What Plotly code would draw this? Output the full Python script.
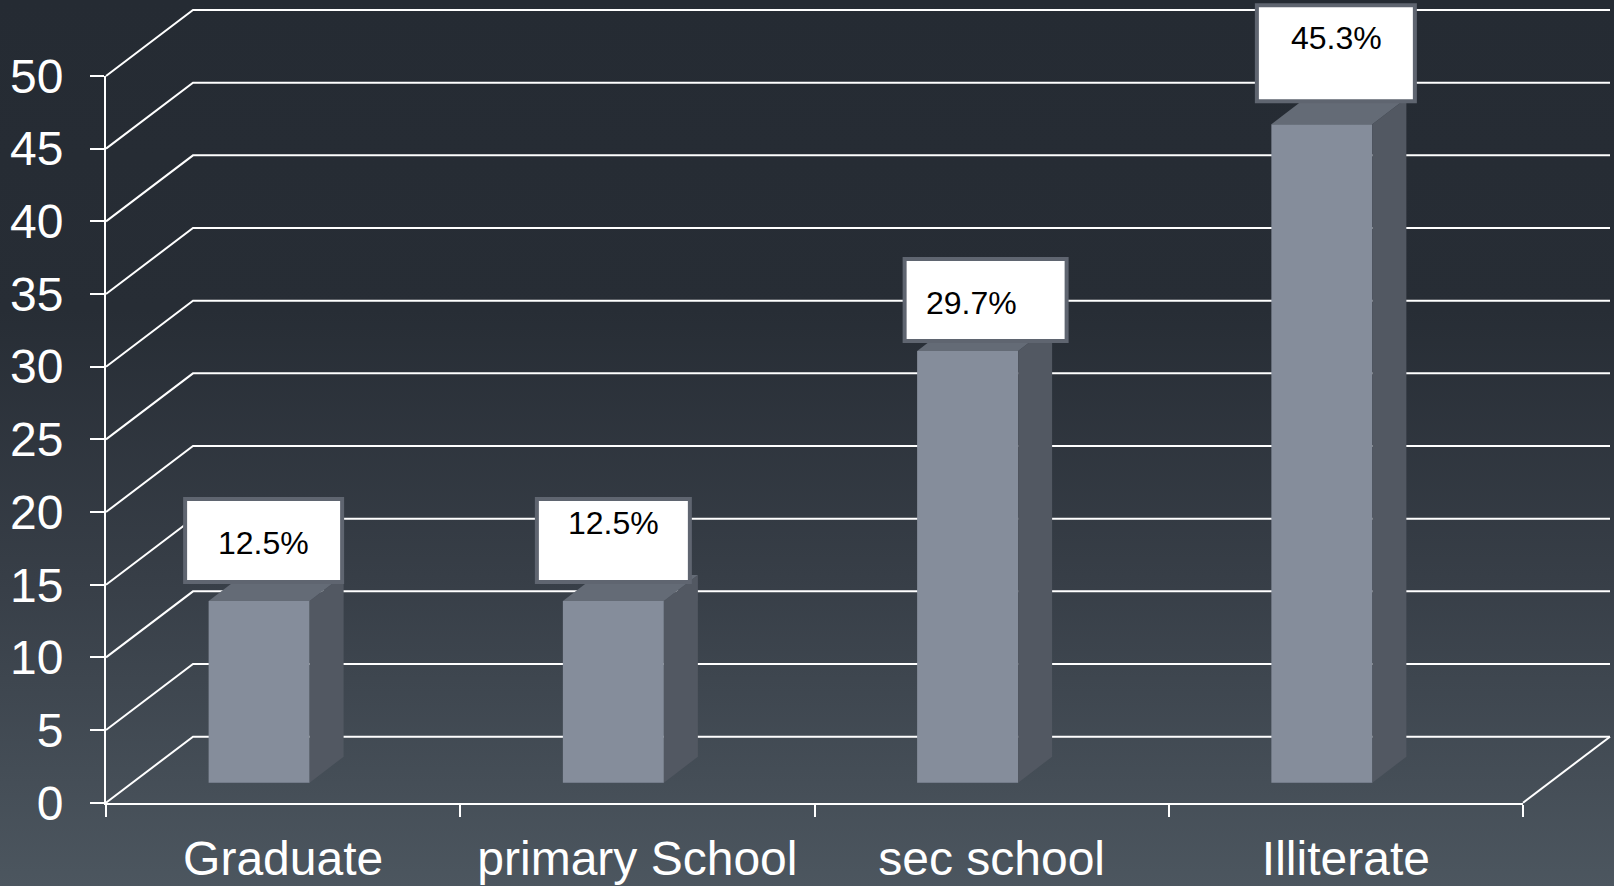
import plotly.graph_objects as go

# ---- data ----
categories = ["Graduate", "primary School", "sec school", "Illiterate"]
values = [12.5, 12.5, 29.7, 45.3]
label_texts = ["12.5%", "12.5%", "29.7%", "45.3%"]
y_ticks = [0, 5, 10, 15, 20, 25, 30, 35, 40, 45, 50]

# ---- geometry / style ----
W, H = 1614, 886
FRONT_L, FRONT_R = 106, 1523      # px of front plane x-range
FRONT_B, FRONT_T = 802.7, 76      # px of y=0 and y=50 on front plane
X_MIN, X_MAX = -0.5, 3.5
Y_MIN, Y_MAX = 0, 50
XPPU = (FRONT_R - FRONT_L) / (X_MAX - X_MIN)
YPPU = (FRONT_B - FRONT_T) / (Y_MAX - Y_MIN)

WDX, WDY = 87 / XPPU, 66 / YPPU             # wall depth
BAR_SHIFT, BAR_W = -24 / XPPU, 101 / XPPU
BAR_LIFT = 20 / YPPU
BDX, BDY = 34 / XPPU, 26 / YPPU              # bar depth

FRONT_COL = "#858d9b"
TOP_COL = "#646b76"
SIDE_COL = "#525862"
GRID_COL = "#ffffff"
FONT = "Liberation Sans, Arial, sans-serif"

# label box styles (pixels, relative to bar front-top centre)
box_dx = [4.5, 0, 18, 14]
box_w = [157, 153, 162, 158]
box_gap = [19, 19, 10, 23]
box_h = [83, 83, 82, 96]
txt_dx = [4, 0, 4, 15]
txt_up = [58, 78, 48, 86]

full_x = [X_MIN - FRONT_L / XPPU, X_MIN + (W - FRONT_L) / XPPU]
full_y = [Y_MIN - (H - FRONT_B) / YPPU, Y_MIN + FRONT_B / YPPU]

fig = go.Figure()

# background gradient
fig.add_trace(go.Scatter(
    x=[full_x[0], full_x[1], full_x[1], full_x[0], full_x[0]],
    y=[full_y[0], full_y[0], full_y[1], full_y[1], full_y[0]],
    mode="lines", line=dict(width=0), fill="toself",
    fillgradient=dict(type="vertical",
                      colorscale=[[0, "#4c565f"], [0.35, "#373e47"], [0.65, "#272d35"], [1, "#252b33"]]),
    hoverinfo="skip", showlegend=False, xaxis="x", yaxis="y"))

# wall grid lines
gx, gy = [], []
for v in y_ticks:
    gx += [X_MIN, X_MIN + WDX, X_MAX + WDX, None]
    gy += [v, v + WDY, v + WDY, None]
gx += [X_MAX, X_MAX + WDX, None]
gy += [Y_MIN, Y_MIN + WDY, None]
fig.add_trace(go.Scatter(x=gx, y=gy, mode="lines", line=dict(color=GRID_COL, width=2),
                         hoverinfo="skip", showlegend=False, xaxis="x", yaxis="y"))

# 3D bars
for i, v in enumerate(values):
    c = i + BAR_SHIFT
    x0, x1 = c - BAR_W / 2, c + BAR_W / 2
    b, t = BAR_LIFT, BAR_LIFT + v
    faces = [
        ([x0, x1, x1, x0, x0], [b, b, t, t, b], FRONT_COL),
        ([x1, x1 + BDX, x1 + BDX, x1, x1], [b, b + BDY, t + BDY, t, b], SIDE_COL),
        ([x0, x1, x1 + BDX, x0 + BDX, x0], [t, t, t + BDY, t + BDY, t], TOP_COL),
    ]
    for fx, fy, col in faces:
        fig.add_trace(go.Scatter(x=fx, y=fy, mode="lines", line=dict(width=0, color=col),
                                 fill="toself", fillcolor=col, hoverinfo="skip",
                                 showlegend=False, xaxis="x", yaxis="y"))

    # label box
    fig.add_shape(type="rect", xref="x", yref="y",
                  xsizemode="pixel", ysizemode="pixel", xanchor=c, yanchor=t,
                  x0=box_dx[i] - box_w[i] / 2, x1=box_dx[i] + box_w[i] / 2,
                  y0=box_gap[i], y1=box_gap[i] + box_h[i],
                  fillcolor="#ffffff", line=dict(color="#5f6570", width=4), layer="above")
    fig.add_annotation(x=c, y=t, xref="x", yref="y", text=label_texts[i], showarrow=False,
                       xanchor="center", yanchor="middle", xshift=txt_dx[i], yshift=txt_up[i],
                       font=dict(family=FONT, size=32, color="#000000"))

# dummy trace for the front axes
fig.add_trace(go.Scatter(x=[0], y=[0], mode="markers", marker=dict(opacity=0),
                         hoverinfo="skip", showlegend=False, xaxis="x2", yaxis="y2"))

fig.update_layout(
    width=W, height=H,
    margin=dict(l=0, r=0, t=0, b=0, autoexpand=False),
    paper_bgcolor="#2c333b", plot_bgcolor="rgba(0,0,0,0)",
    showlegend=False,
    xaxis=dict(domain=[0, 1], range=full_x, visible=False, fixedrange=True, automargin=False),
    yaxis=dict(domain=[0, 1], range=full_y, visible=False, fixedrange=True, automargin=False),
    xaxis2=dict(domain=[FRONT_L / W, FRONT_R / W], range=[X_MIN, X_MAX], anchor="y2",
                tickmode="array", tickvals=list(range(len(categories))), ticktext=categories,
                ticks="", showgrid=False, zeroline=False, automargin=False,
                showline=True, linecolor="#ffffff", linewidth=2,
                minor=dict(tickmode="linear", tick0=-0.5, dtick=1, ticks="outside",
                           ticklen=12, tickwidth=2, tickcolor="#ffffff", showgrid=False),
                tickfont=dict(family=FONT, size=48, color="#ffffff"),
                ticklabelstandoff=13, fixedrange=True),
    yaxis2=dict(domain=[(H - FRONT_B) / H, (H - FRONT_T) / H], range=[Y_MIN, Y_MAX], anchor="x2",
                tickmode="array", tickvals=y_ticks, ticks="outside", ticklen=14, tickwidth=2,
                tickcolor="#ffffff", showgrid=False, zeroline=False, automargin=False,
                showline=True, linecolor="#ffffff", linewidth=2,
                tickfont=dict(family=FONT, size=48, color="#ffffff"),
                ticklabelstandoff=17, fixedrange=True),
)

fig.write_html("out.html", config={"displayModeBar": False})
